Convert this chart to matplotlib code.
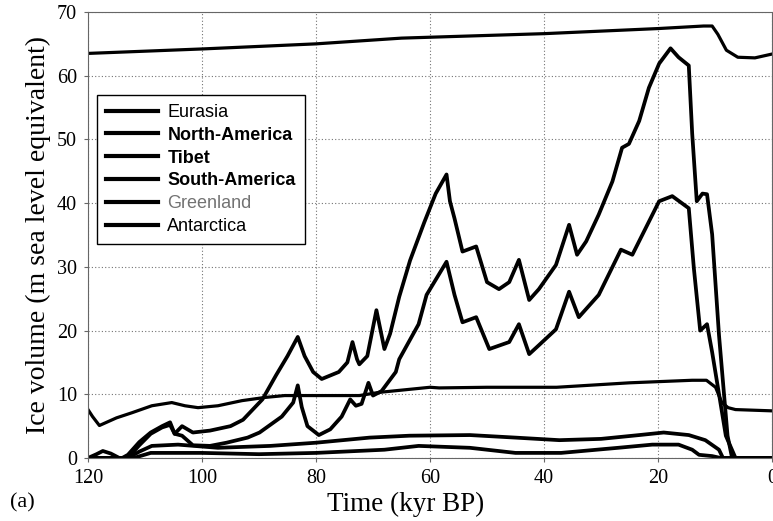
import numpy as np
import matplotlib
matplotlib.use("Agg")
import matplotlib.pyplot as plt

# temps (kyr BP) et volumes (m eq. niveau marin)
t_na = [120, 114, 113, 111, 109, 107, 105.6, 104.8, 103.5, 101.6, 98.6, 95, 92.8, 89.4,
        87, 85, 83.2, 82, 80.5, 79, 76, 74.5, 73.6, 72.8, 72.4, 71, 69.4, 68, 67, 65.4,
        63.5, 61, 59, 57.1, 56.5, 55.7, 54.3, 51.9, 50, 47.9, 46.1, 44.4, 42.6, 40.9,
        37.9, 35.6, 34.2, 32.6, 30.4, 28, 26.3, 25.1, 23.3, 21.6, 19.8, 17.8, 16.4,
        14.6, 14, 13.2, 12.2, 11.4, 10.5, 9.3, 7.8, 7, 0]
v_na = [0, 0, 0.5, 2.5, 4, 5, 5.6, 3.8, 5.0, 4.0, 4.3, 5.0, 6.0, 9.2,
        13, 16, 19, 16, 13.5, 12.4, 13.5, 15, 18.2, 15.5, 14.7, 16, 23.2, 17.1, 19.5, 25.3,
        31, 37, 41.5, 44.5, 40.3, 37.6, 32.4, 33.2, 27.6, 26.5, 27.6, 31.1, 24.8, 26.5,
        30.3, 36.6, 31.9, 34, 38.2, 43.4, 48.7, 49.3, 52.9, 58.1, 61.9, 64.3, 62.9,
        61.6, 50.9, 40.3, 41.5, 41.4, 35.1, 19.3, 3.5, 0, 0]

t_eu = [120, 113, 111, 109, 107, 105.6, 104.8, 103.5, 101.6, 98.6, 95.7, 92, 89.9, 86,
        84, 83.2, 82.5, 81.5, 79.5, 77.5, 75.5, 74, 73, 72, 70.8, 70, 68.5, 66, 65.4,
        62, 60.6, 57.1, 55.7, 54.3, 51.9, 49.6, 46.1, 44.4, 42.6, 40.9, 37.9, 35.6,
        33.9, 30.4, 26.5, 24.5, 19.8, 17.5, 14.6, 13.7, 12.6, 11.4, 10.5, 8.1, 6.4, 0]
v_eu = [0, 0, 2, 3.8, 4.8, 5.2, 3.8, 3.5, 2.0, 1.9, 2.4, 3.2, 4.0, 6.5,
        8.7, 11.4, 8, 5, 3.6, 4.5, 6.5, 9.2, 8.2, 8.5, 11.8, 9.8, 10.5, 13.5, 15.5,
        21, 25.6, 30.8, 25.6, 21.3, 22.1, 17.1, 18.2, 21.0, 16.3, 17.7, 20.2, 26.1,
        22.1, 25.6, 32.7, 31.9, 40.3, 41.1, 39.2, 29.7, 20.0, 21, 16.6, 3.5, 0, 0]

t_tib = [120, 118.5, 117.4, 116, 114.5, 113, 111, 108.8, 104.2, 97.2, 88, 80, 70.6,
         63.6, 53, 45, 37.3, 30, 23.3, 19, 14.6, 11.7, 9.3, 8.6, 0]
v_tib = [0, 0.6, 1.1, 0.7, 0, 0, 1, 1.9, 2.1, 1.6, 1.9, 2.4, 3.2,
         3.5, 3.6, 3.2, 2.8, 3.0, 3.6, 4.0, 3.6, 2.8, 1.3, 0, 0]

t_sa = [120, 112, 109, 100, 90, 80, 68, 62, 53, 45, 37, 27, 21, 16.4, 14, 12.8,
        10.5, 9, 0]
v_sa = [0, 0, 0.8, 0.8, 0.6, 0.8, 1.3, 1.9, 1.6, 0.8, 0.8, 1.6, 2.1, 2.1, 1.3, 0.5,
        0.3, 0, 0]

t_gr = [120, 119.2, 118, 115, 112.3, 108.8, 105.3, 103, 100.7, 97.2, 93, 89, 85.5,
        80.5, 72.4, 68.9, 60, 58.4, 50, 37.8, 25, 14, 11.5, 9.9, 8.8, 7.7, 6.4, 0]
v_gr = [7.6, 6.5, 5.1, 6.3, 7.1, 8.2, 8.7, 8.2, 7.9, 8.2, 9.0, 9.5, 9.8,
        9.8, 9.8, 10.3, 11.1, 11.0, 11.1, 11.1, 11.8, 12.2, 12.2, 11.1, 8.7, 7.9, 7.6, 7.4]

t_ant = [120, 100, 80, 65, 40, 20, 12, 10.5, 9.5, 8, 6, 3, 0]
v_ant = [63.5, 64.2, 65.0, 65.9, 66.6, 67.4, 67.8, 67.8, 66.5, 64.0, 62.9, 62.8, 63.4]

noms = ['Eurasia', 'North-America', 'Tibet', 'South-America', 'Greenland', 'Antarctica']

fig = plt.figure(figsize=(7.73, 5.21), dpi=100)
ax = fig.add_axes([88 / 773, 63 / 521, 684 / 773, 446 / 521])

lw = 2.7
ax.plot(t_eu, v_eu, color='black', lw=lw, label=noms[0])
ax.plot(t_na, v_na, color='black', lw=lw, label=noms[1])
ax.plot(t_tib, v_tib, color='black', lw=lw, label=noms[2])
ax.plot(t_sa, v_sa, color='black', lw=lw, label=noms[3])
ax.plot(t_gr, v_gr, color='black', lw=2.3, label=noms[4])
ax.plot(t_ant, v_ant, color='black', lw=2.3, label=noms[5])

ax.set_xlim(120, 0)
ax.set_ylim(0, 70)
ax.set_xticks(np.arange(120, -1, -20))
ax.set_yticks(np.arange(0, 71, 10))
ax.grid(True, color='0.45', linestyle=(0, (1, 2)), linewidth=0.8)
for s in ax.spines.values():
    s.set_color('0.4')
    s.set_linewidth(0.8)
ax.spines['top'].set_linestyle((0, (1, 1)))
ax.tick_params(length=3, color='0.4', labelsize=14.5, pad=5)
for lab in ax.get_xticklabels() + ax.get_yticklabels():
    lab.set_family('Liberation Serif')

ax.set_xlabel('Time (kyr BP)', family='Liberation Serif', fontsize=19.5)
ax.xaxis.set_label_coords(0.465, -0.075)
ax.set_ylabel('Ice volume (m sea level equivalent)', family='Liberation Serif',
              fontsize=20, labelpad=4)
fig.text(10 / 773, 1 - 503 / 521, '(a)', family='Liberation Serif', fontsize=16,
         va='center')

leg = ax.legend(loc='upper left', bbox_to_anchor=(0.013, 0.814), borderaxespad=0,
                fancybox=False, edgecolor='black', framealpha=1, handlelength=2.9,
                handletextpad=0.5, labelspacing=0.32, borderpad=0.5,
                prop={'family': 'Liberation Sans', 'size': 13})
leg.get_frame().set_linewidth(1.0)
for i, txt in enumerate(leg.get_texts()):
    if i in (1, 2, 3):
        txt.set_fontweight('bold')
    if i == 4:
        txt.set_color('0.45')
for h in leg.legend_handles:
    h.set_linewidth(3.0)

fig.savefig('out.png', dpi=100)
